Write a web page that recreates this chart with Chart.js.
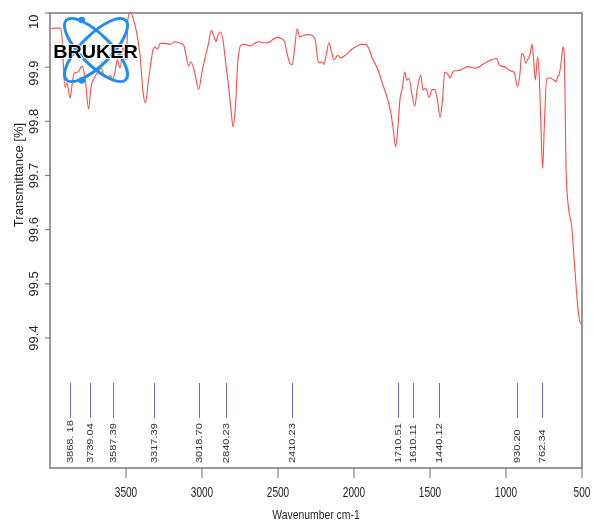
<!DOCTYPE html>
<html>
<head>
<meta charset="utf-8">
<title>IR spectrum</title>
<script src="https://cdn.jsdelivr.net/npm/chart.js@4.4.1/dist/chart.umd.min.js"></script>
<style>
  html, body { margin: 0; padding: 0; background: #ffffff; }
  #wrap { width: 593px; height: 521px; }
</style>
</head>
<body>
<div id="wrap"><canvas id="spectrum" width="593" height="521"></canvas></div>
<script>
// Wavenumber (cm-1) and transmittance (%) of the measured spectrum
const wavenumbers = [
  3995, 3974, 3934, 3921, 3914, 3901, 3888, 3868, 3855, 3842, 3815, 3789, 3769, 3746,
  3730, 3705, 3684, 3664, 3644, 3618, 3604, 3588, 3572, 3558, 3539, 3519, 3499, 3486,
  3468, 3453, 3433, 3409, 3387, 3372, 3354, 3334, 3323, 3308, 3293, 3275, 3242, 3209,
  3176, 3143, 3121, 3103, 3088, 3073, 3055, 3038, 3022, 3000, 2978, 2957, 2939, 2924,
  2908, 2895, 2879, 2862, 2846, 2825, 2809, 2796, 2780, 2765, 2743, 2715, 2682, 2655,
  2627, 2594, 2568, 2539, 2506, 2479, 2457, 2440, 2423, 2407, 2392, 2374, 2357, 2330,
  2297, 2268, 2253, 2238, 2225, 2209, 2198, 2181, 2165, 2150, 2132, 2106, 2088, 2067,
  2044, 2011, 1978, 1956, 1924, 1902, 1879, 1846, 1813, 1780, 1759, 1741, 1726, 1711,
  1697, 1682, 1666, 1653, 1638, 1620, 1600, 1583, 1561, 1546, 1528, 1506, 1488, 1469,
  1451, 1434, 1418, 1403, 1385, 1368, 1345, 1308, 1276, 1253, 1198, 1154, 1111, 1060,
  1045, 1012, 968, 946, 924, 908, 897, 884, 869, 854, 840, 829, 818, 807,
  792, 781, 770, 759, 748, 732, 709, 686, 671, 660, 649, 638, 625, 616,
  605, 590, 568, 550, 528, 511, 500
];
const transmittance = [
  99.971, 99.972, 99.972, 99.955, 99.913, 99.863, 99.871, 99.843, 99.867, 99.889, 99.891, 99.902, 99.880, 99.823,
  99.863, 99.882, 99.891, 99.898, 99.885, 99.882, 99.885, 99.878, 99.891, 99.913, 99.898, 99.937, 99.913, 99.992,
  100.000, 99.990, 99.968, 99.926, 99.852, 99.834, 99.871, 99.913, 99.931, 99.937, 99.933, 99.944, 99.944, 99.942,
  99.947, 99.944, 99.941, 99.919, 99.902, 99.910, 99.898, 99.876, 99.859, 99.891, 99.919, 99.944, 99.968, 99.959,
  99.947, 99.959, 99.965, 99.950, 99.913, 99.864, 99.821, 99.790, 99.827, 99.907, 99.941, 99.942, 99.939, 99.944,
  99.947, 99.945, 99.945, 99.950, 99.955, 99.953, 99.947, 99.925, 99.908, 99.904, 99.931, 99.971, 99.956, 99.959,
  99.960, 99.957, 99.947, 99.913, 99.908, 99.910, 99.905, 99.925, 99.945, 99.931, 99.914, 99.922, 99.917, 99.920,
  99.925, 99.934, 99.939, 99.942, 99.942, 99.934, 99.916, 99.898, 99.870, 99.842, 99.818, 99.784, 99.753, 99.790,
  99.842, 99.861, 99.891, 99.876, 99.879, 99.852, 99.828, 99.861, 99.885, 99.858, 99.861, 99.844, 99.858, 99.859,
  99.839, 99.807, 99.839, 99.891, 99.888, 99.880, 99.893, 99.894, 99.898, 99.901, 99.898, 99.905, 99.912, 99.916,
  99.904, 99.901, 99.893, 99.890, 99.864, 99.888, 99.925, 99.922, 99.907, 99.916, 99.925, 99.942, 99.913, 99.876,
  99.919, 99.882, 99.790, 99.713, 99.790, 99.879, 99.880, 99.876, 99.873, 99.882, 99.888, 99.907, 99.937, 99.916,
  99.716, 99.643, 99.606, 99.539, 99.459, 99.428, 99.427
];

// Picked peaks (cm-1) and their printed labels
const peakPositions = [3868.18, 3739.04, 3587.39, 3317.39, 3018.70, 2840.23, 2410.23, 1710.51, 1610.11, 1440.12, 930.20, 762.34];
const peakLabels = ["3868. 18", "3739.04", "3587.39", "3317.39", "3018.70", "2840.23", "2410.23", "1710.51", "1610.11", "1440.12", "930.20", "762.34"];

// Axis ticks
const xTicks = [3500, 3000, 2500, 2000, 1500, 1000, 500];
const xTickLabels = ["3500", "3000", "2500", "2000", "1500", "1000", "500"];
const yTicks = [99.4, 99.5, 99.6, 99.7, 99.8, 99.9, 100];
const yTickLabels = ["99.4", "99.5", "99.6", "99.7", "99.8", "99.9", "100"];

const FONT = '"Liberation Sans", Arial, Helvetica, sans-serif';
const AXIS_COLOR = '#808080';
const TEXT_COLOR = '#262626';

const points = wavenumbers.map((w, i) => ({ x: w, y: transmittance[i] }));

// Frame, ticks, labels, peak markers and the logo
const decorations = {
  id: 'decorations',
  afterDraw(chart) {
    const ctx = chart.ctx;
    const area = chart.chartArea;
    const xs = chart.scales.x;
    const ys = chart.scales.y;
    ctx.save();

    // frame
    ctx.strokeStyle = AXIS_COLOR;
    ctx.lineWidth = 1.6;
    ctx.strokeRect(area.left, area.top, area.right - area.left, area.bottom - area.top);

    // x ticks and labels
    ctx.lineWidth = 1.2;
    ctx.fillStyle = TEXT_COLOR;
    ctx.font = '14px ' + FONT;
    ctx.textAlign = 'center';
    ctx.textBaseline = 'middle';
    xTicks.forEach((v, i) => {
      const px = xs.getPixelForValue(v);
      ctx.beginPath();
      ctx.moveTo(px, area.bottom);
      ctx.lineTo(px, area.bottom + 10);
      ctx.stroke();
      ctx.save();
      ctx.translate(px, area.bottom + 25);
      ctx.scale(0.72, 1);
      ctx.fillText(xTickLabels[i], 0, 0);
      ctx.restore();
    });

    // x title
    ctx.font = '13px ' + FONT;
    ctx.save();
    ctx.translate((area.left + area.right) / 2, area.bottom + 47);
    ctx.scale(0.8, 1);
    ctx.fillText('Wavenumber cm-1', 0, 0);
    ctx.restore();

    // y ticks and rotated labels
    yTicks.forEach((v, i) => {
      const py = ys.getPixelForValue(v);
      ctx.beginPath();
      ctx.moveTo(area.left - 5, py);
      ctx.lineTo(area.left, py);
      ctx.stroke();
      ctx.save();
      if (v >= 100) {
        ctx.beginPath();
        ctx.rect(0, area.top + 1, area.left, 40);
        ctx.clip();
        ctx.translate(area.left - 16, area.top + 16);
        ctx.rotate(-Math.PI / 2);
        ctx.textAlign = 'left';
        ctx.fillText(yTickLabels[i], 0, 0);
      } else {
        const shift = v > 99.85 ? 6 : 0;
        ctx.translate(area.left - 16, py + shift);
        ctx.rotate(-Math.PI / 2);
        ctx.textAlign = 'center';
        ctx.fillText(yTickLabels[i], 0, 0);
      }
      ctx.restore();
    });

    // y title
    ctx.save();
    ctx.translate(19, 175);
    ctx.rotate(-Math.PI / 2);
    ctx.textAlign = 'center';
    ctx.fillText('Transmittance [%]', 0, 0);
    ctx.restore();

    // peak markers
    ctx.font = '11px ' + FONT;
    peakPositions.forEach((p, i) => {
      const px = Math.round(xs.getPixelForValue(p)) + 0.5;
      ctx.strokeStyle = '#6a6acc';
      ctx.lineWidth = 1;
      ctx.beginPath();
      ctx.moveTo(px, 383);
      ctx.lineTo(px, 418);
      ctx.stroke();
      ctx.save();
      ctx.translate(px, 463);
      ctx.scale(0.85, 1);
      ctx.rotate(-Math.PI / 2);
      ctx.textAlign = 'left';
      ctx.textBaseline = 'middle';
      ctx.fillStyle = '#333333';
      ctx.fillText(peakLabels[i], 0, 0);
      ctx.restore();
    });

    // logo
    const cx = 96, cy = 50;
    ctx.strokeStyle = '#1f8ef0';
    ctx.lineWidth = 3;
    [Math.PI / 4, -Math.PI / 4].forEach(a => {
      ctx.beginPath();
      ctx.ellipse(cx, cy, 42, 15, a, 0, Math.PI * 2);
      ctx.stroke();
    });
    ctx.fillStyle = '#1f8ef0';
    [[81.7, 20], [81.7, 80.5]].forEach(([x, y]) => {
      ctx.beginPath();
      ctx.arc(x, y, 3.3, 0, Math.PI * 2);
      ctx.fill();
    });
    ctx.save();
    ctx.translate(95.5, 58);
    ctx.scale(1.1, 1);
    ctx.font = 'bold 18px ' + FONT;
    ctx.textAlign = 'center';
    ctx.textBaseline = 'alphabetic';
    ctx.lineWidth = 2;
    ctx.strokeStyle = 'rgba(255,255,255,0.8)';
    ctx.strokeText('BRUKER', 0, 0);
    ctx.fillStyle = '#000000';
    ctx.fillText('BRUKER', 0, 0);
    ctx.restore();

    ctx.restore();
  }
};

new Chart(document.getElementById('spectrum'), {
  type: 'line',
  data: {
    datasets: [{
      data: points,
      borderColor: '#ff4a4a',
      borderWidth: 1.1,
      pointRadius: 0,
      cubicInterpolationMode: 'monotone',
      fill: false
    }]
  },
  options: {
    responsive: false,
    animation: false,
    devicePixelRatio: 1,
    layout: { padding: { left: 50, right: 11, top: 13, bottom: 53 } },
    plugins: { legend: { display: false }, tooltip: { enabled: false } },
    scales: {
      x: { type: 'linear', min: 500, max: 4000, reverse: true, display: false },
      y: { type: 'linear', min: 99.16, max: 100, display: false }
    }
  },
  plugins: [decorations]
});
</script>
</body>
</html>
